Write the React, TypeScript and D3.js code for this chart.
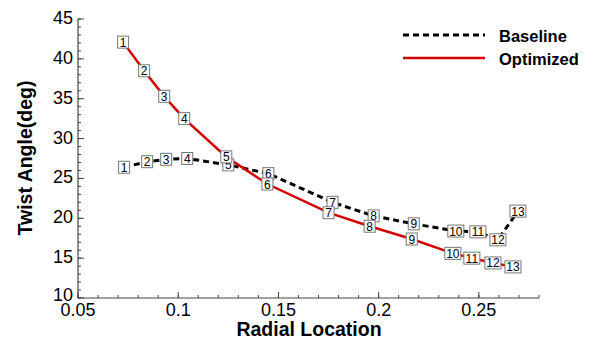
import React from "react";
import * as d3 from "d3";

const indexLabels = ["1","2","3","4","5","6","7","8","9","10","11","12","13"];
const baselineX = [0.073, 0.0845, 0.094, 0.1045, 0.125, 0.145, 0.177, 0.1975, 0.2175, 0.2385, 0.2495, 0.2595, 0.2695];
const baselineY = [26.4, 27.1, 27.4, 27.5, 26.7, 25.6, 22.0, 20.3, 19.3, 18.4, 18.3, 17.3, 20.9];
const optimizedX = [0.0725, 0.083, 0.093, 0.103, 0.124, 0.1445, 0.175, 0.1955, 0.2165, 0.237, 0.2465, 0.257, 0.267];
const optimizedY = [42.1, 38.5, 35.3, 32.5, 27.7, 24.3, 20.7, 19.0, 17.4, 15.6, 15.0, 14.4, 13.9];
const xTicks = [0.05, 0.1, 0.15, 0.2, 0.25];
const xTickLabels = ["0.05", "0.1", "0.15", "0.2", "0.25"];
const yTicks = [10, 15, 20, 25, 30, 35, 40, 45];
const seriesNames = ["Baseline", "Optimized"];

export default function App() {
  const W = 596, H = 340;
  const x = d3.scaleLinear().domain([0.05, 0.28]).range([78, 539]);
  const y = d3.scaleLinear().domain([10, 45]).range([298, 19]);
  const line = d3.line<[number, number]>().x(d => x(d[0])).y(d => y(d[1]));
  const base: [number, number][] = baselineX.map((v, i) => [v, baselineY[i]]);
  const opt: [number, number][] = optimizedX.map((v, i) => [v, optimizedY[i]]);
  const xMinor = d3.range(0, 24).map(i => 0.05 + i * 0.01).filter(v => v <= 0.2801);
  const yMinor = d3.range(10, 46);
  const font = "Arial, 'Liberation Sans', sans-serif";
  const axisColor = "#444";
  const red = "#d40000";

  const labelBox = (px: number, py: number, t: string, key: string) => {
    const w = t.length > 1 ? 16 : 11;
    const h = 12;
    return (
      <g key={key}>
        <rect x={px - w / 2} y={py - h / 2} width={w} height={h} fill="white" stroke="#777" strokeWidth={1} />
        <text x={px} y={py + 4.5} textAnchor="middle" fontSize={12} fontFamily={font} fill="#000">{t}</text>
      </g>
    );
  };

  return (
    <svg width={W} height={H} style={{ position: "absolute", left: 0, top: 0, background: "white" }}>
      {/* axes */}
      <line x1={78} y1={298} x2={539} y2={298} stroke={axisColor} strokeWidth={1.2} />
      <line x1={78} y1={19} x2={78} y2={298} stroke={axisColor} strokeWidth={1.2} />
      {xMinor.map((v, i) => (
        <line key={"xm" + i} x1={x(v)} x2={x(v)} y1={298} y2={295} stroke={axisColor} />
      ))}
      {xTicks.map((v, i) => (
        <g key={"xt" + i}>
          <line x1={x(v)} x2={x(v)} y1={298} y2={292} stroke={axisColor} />
          <text x={x(v)} y={316} textAnchor="middle" fontSize={18} fontFamily={font} fill="#000">{xTickLabels[i]}</text>
        </g>
      ))}
      {yMinor.map((v, i) => (
        <line key={"ym" + i} x1={78} x2={81} y1={y(v)} y2={y(v)} stroke={axisColor} />
      ))}
      {yTicks.map((v, i) => (
        <g key={"yt" + i}>
          <line x1={78} x2={84} y1={y(v)} y2={y(v)} stroke={axisColor} />
          <text x={73} y={y(v) + (v === 10 ? 3 : 5)} textAnchor="end" fontSize={18} fontFamily={font} fill="#000">{v}</text>
        </g>
      ))}
      <text x={309} y={336} textAnchor="middle" fontSize={19.5} fontWeight="bold" fontFamily={font} fill="#000">Radial Location</text>
      <text transform="translate(32,158) rotate(-90)" textAnchor="middle" fontSize={19.5} fontWeight="bold" fontFamily={font} fill="#000">Twist Angle(deg)</text>

      {/* series */}
      <path d={line(base) || ""} fill="none" stroke="#000" strokeWidth={3} strokeDasharray="6,4" />
      <path d={line(opt) || ""} fill="none" stroke={red} strokeWidth={2.5} />
      {base.map((d, i) => labelBox(x(d[0]), y(d[1]), indexLabels[i], "b" + i))}
      {opt.map((d, i) => labelBox(x(d[0]), y(d[1]), indexLabels[i], "o" + i))}

      {/* legend */}
      <line x1={403} x2={485} y1={35} y2={35} stroke="#000" strokeWidth={3} strokeDasharray="6,4" />
      <text x={499} y={42} fontSize={16.5} fontWeight="bold" fontFamily={font} fill="#000">{seriesNames[0]}</text>
      <line x1={403} x2={485} y1={58} y2={58} stroke={red} strokeWidth={2.5} />
      <text x={499} y={65} fontSize={16.5} fontWeight="bold" fontFamily={font} fill="#000">{seriesNames[1]}</text>
    </svg>
  );
}
